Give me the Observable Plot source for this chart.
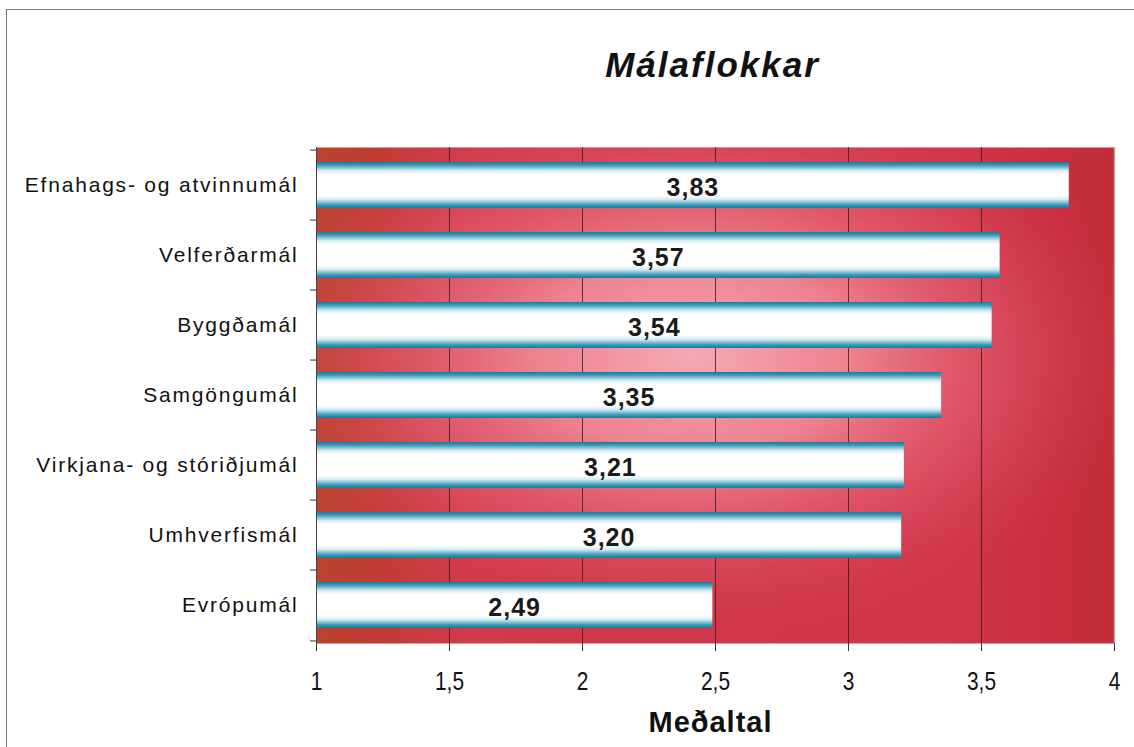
<!DOCTYPE html>
<html>
<head>
<meta charset="utf-8">
<script src="https://cdn.jsdelivr.net/npm/d3@7"></script>
<script src="https://cdn.jsdelivr.net/npm/@observablehq/plot@0.6"></script>
<style>
  html, body { margin: 0; padding: 0; background: #fff; }
  #wrap { position: relative; width: 1134px; height: 747px; overflow: hidden; }
  #border { position: absolute; left: 6px; top: 9px; width: 1200px; height: 800px; border: 1.2px solid #777; box-sizing: border-box; }
  #chart { position: absolute; left: 0; top: 0; }
</style>
</head>
<body>
<div id="wrap"><div id="border"></div><div id="chart"></div></div>
<script>
const categories = ["Efnahags- og atvinnumál", "Velferðarmál", "Byggðamál", "Samgöngumál", "Virkjana- og stóriðjumál", "Umhverfismál", "Evrópumál"];
const values = [3.83, 3.57, 3.54, 3.35, 3.21, 3.20, 2.49];
const valueLabels = ["3,83", "3,57", "3,54", "3,35", "3,21", "3,20", "2,49"];
const xTicks = [1, 1.5, 2, 2.5, 3, 3.5, 4];
const titleText = "Málaflokkar";
const xLabel = "Meðaltal";

const data = categories.map((c, i) => ({cat: c, v: values[i], label: valueLabels[i]}));
const fmt = d => String(d).replace(".", ",");

const W = 1134, H = 747, ML = 316, MR = 20, MT = 147, MB = 104;
const step = (H - MT - MB) / categories.length;
const tickLen = 6 * 3 / (W - ML - MR);

const plot = Plot.plot({
  width: W,
  height: H,
  marginLeft: ML,
  marginRight: MR,
  marginTop: MT,
  marginBottom: MB,
  style: {fontFamily: "'Liberation Sans', Arial, sans-serif", background: "transparent"},
  x: {domain: [1, 4], ticks: xTicks, tickFormat: fmt, label: null},
  y: {domain: categories, paddingInner: 0.34, paddingOuter: 0.17, label: null},
  marks: [
    Plot.frame({fill: "url(#bgBase)", stroke: "none"}),
    Plot.frame({fill: "url(#bgGlow)", stroke: "none"}),
    Plot.ruleX(xTicks.slice(1, -1), {stroke: "#3a1a1a", strokeWidth: 1, strokeOpacity: 0.8}),
    Plot.barX(data, {x1: 1, x2: "v", y: "cat", fill: "url(#barGrad)"}),
    Plot.text(data, {x: d => (1 + d.v) / 2, y: "cat", text: "label", fontSize: 25, fontWeight: "bold", fill: "#1a1a1a", dy: 2}),
    Plot.ruleX([1], {stroke: "#444", strokeWidth: 1}),
    Plot.ruleX([4], {stroke: "#aaa", strokeWidth: 1.5}),
    Plot.ruleY(categories, {y: d => d, dy: -step / 2, x1: 1 - tickLen, x2: 1, stroke: "#333"}),
    Plot.ruleY(categories.slice(-1), {y: d => d, dy: step / 2, x1: 1 - tickLen, x2: 1, stroke: "#333"}),
    Plot.ruleY([0], {frameAnchor: "bottom", stroke: "#6a5a30"}),
    Plot.axisX({ticks: xTicks, tickFormat: fmt, tickSize: 8, tickPadding: 20, fill: "#111", stroke: "#333", label: null}),
    Plot.axisY({tickSize: 0, tickPadding: 18, fill: "#111", label: null}),
    Plot.text([titleText], {frameAnchor: "top", lineAnchor: "middle", dy: -81.5, dx: -3, fontSize: 35, fontWeight: "bold", fontStyle: "italic", fill: "#111"}),
    Plot.text([xLabel], {frameAnchor: "bottom", lineAnchor: "middle", dy: 79.5, dx: -5, fontSize: 29, fontWeight: "bold", fill: "#111"})
  ]
});

const svg = d3.select(plot);
svg.selectAll('g[aria-label="x-axis tick label"]').attr("font-size", 22);
// stretch the x tick labels vertically (the original uses a narrow, tall face)
svg.selectAll('g[aria-label="x-axis tick label"] text').each(function() {
  let t = this.getAttribute("transform");
  if (!t) {
    const x = +this.getAttribute("x") || 0, y = +this.getAttribute("y") || 0;
    this.removeAttribute("x"); this.removeAttribute("y");
    t = `translate(${x},${y})`;
  }
  this.setAttribute("transform", t + " scale(0.95,1.2)");
});
svg.selectAll('g[aria-label="y-axis tick label"]').attr("font-size", 21).attr("letter-spacing", "1.8px");
svg.selectAll('g[aria-label="text"]').filter(function() { return this.textContent === titleText; }).attr("letter-spacing", "2px");
svg.selectAll('g[aria-label="text"]').filter(function() { return this.textContent === xLabel; }).attr("letter-spacing", "1px");
svg.selectAll('g[aria-label="text"]').filter(function() { return this.textContent.includes(","); }).attr("letter-spacing", "1px");

const defs = svg.insert("defs", ":first-child");
const base = defs.append("linearGradient").attr("id", "bgBase").attr("x1", 0).attr("y1", 0).attr("x2", 1).attr("y2", 0);
[[0, "#b8442e"], [0.08, "#c03c34"], [0.18, "#d03a4a"], [0.8, "#d03448"], [1, "#c22c3a"]].forEach(([o, c]) =>
  base.append("stop").attr("offset", o).attr("stop-color", c));
const glow = defs.append("radialGradient").attr("id", "bgGlow")
  .attr("cx", "0.47").attr("cy", "0.42").attr("r", "0.58").attr("fx", "0.47").attr("fy", "0.42");
[[0, "#f6aab4", 1], [0.35, "#ee8492", 0.95], [0.65, "#e25e70", 0.6], [1, "#d03448", 0]].forEach(([o, c, op]) =>
  glow.append("stop").attr("offset", o).attr("stop-color", c).attr("stop-opacity", op));
const bar = defs.append("linearGradient").attr("id", "barGrad").attr("x1", 0).attr("y1", 0).attr("x2", 0).attr("y2", 1);
[[0, "#187a98"], [0.07, "#3a9cb8"], [0.18, "#cfe8ee"], [0.27, "#ffffff"], [0.73, "#ffffff"], [0.82, "#cfe8ee"], [0.93, "#3a9cb8"], [1, "#187a98"]].forEach(([o, c]) =>
  bar.append("stop").attr("offset", o).attr("stop-color", c));

document.getElementById("chart").appendChild(plot);
</script>
</body>
</html>
